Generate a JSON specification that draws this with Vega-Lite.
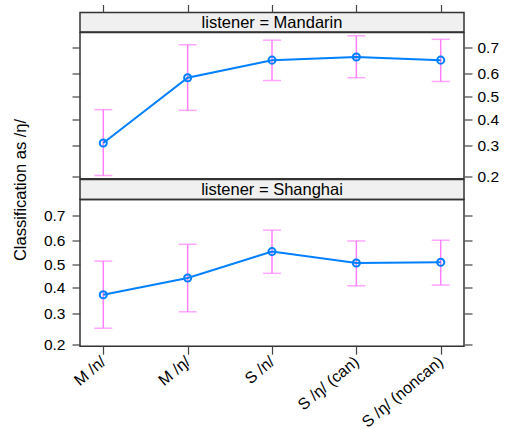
{
  "$schema": "https://vega.github.io/schema/vega-lite/v6.json",
  "padding": {"left": 11, "top": 2.5, "right": 5, "bottom": 5},
  "background": "white",
  "config": {
    "font": "Liberation Sans",
    "view": {"stroke": "#333333", "strokeWidth": 1.5},
    "axis": {"tickColor": "#444444", "tickSize": 8, "tickWidth": 1.2, "labelColor": "black", "labelFont": "Liberation Sans", "labelFontSize": 15.5, "grid": false, "domain": false, "titleFont": "Liberation Sans", "titleFontWeight": "normal", "titleColor": "black"}
  },
  "datasets": {
    "est": [
      {"listener": "Mandarin", "cond": "M /n/", "p": 0.308, "lo": 0.202, "hi": 0.443},
      {"listener": "Mandarin", "cond": "M /ŋ/", "p": 0.581, "lo": 0.440, "hi": 0.711},
      {"listener": "Mandarin", "cond": "S /n/", "p": 0.653, "lo": 0.569, "hi": 0.727},
      {"listener": "Mandarin", "cond": "S /ŋ/ (can)", "p": 0.665, "lo": 0.581, "hi": 0.742},
      {"listener": "Mandarin", "cond": "S /ŋ/ (noncan)", "p": 0.653, "lo": 0.565, "hi": 0.730},
      {"listener": "Shanghai", "cond": "M /n/", "p": 0.371, "lo": 0.248, "hi": 0.514},
      {"listener": "Shanghai", "cond": "M /ŋ/", "p": 0.441, "lo": 0.305, "hi": 0.586},
      {"listener": "Shanghai", "cond": "S /n/", "p": 0.555, "lo": 0.461, "hi": 0.644},
      {"listener": "Shanghai", "cond": "S /ŋ/ (can)", "p": 0.506, "lo": 0.408, "hi": 0.600},
      {"listener": "Shanghai", "cond": "S /ŋ/ (noncan)", "p": 0.509, "lo": 0.411, "hi": 0.603}
    ]
  },
  "spacing": 0,
  "bounds": "flush",
  "vconcat": [
    {
      "width": 384,
      "height": 19.5,
      "view": {"fill": "#f0f0f0", "stroke": "#333333", "strokeWidth": 1.5},
      "layer": [
        {
          "data": {"name": "est"},
          "mark": {"type": "point", "opacity": 0},
          "encoding": {
            "x": {"field": "cond", "type": "ordinal", "sort": ["M /n/", "M /ŋ/", "S /n/", "S /ŋ/ (can)", "S /ŋ/ (noncan)"], "scale": {"type": "point", "padding": 0.276}, "axis": {"orient": "top", "labels": false, "title": null}}
          }
        },
        {
          "data": {"values": [{"s": "listener = Mandarin"}]},
          "mark": {"type": "text", "fontSize": 16.5, "color": "black", "baseline": "middle", "align": "center", "dy": 0.5},
          "encoding": {"text": {"field": "s"}}
        }
      ]
    },
    {
      "width": 384,
      "height": 146.3,
      "data": {"name": "est"},
      "transform": [
        {"filter": "datum.listener == 'Mandarin'"},
        {"calculate": "log(datum.p/(1-datum.p))", "as": "lp"},
        {"calculate": "log(datum.lo/(1-datum.lo))", "as": "llo"},
        {"calculate": "log(datum.hi/(1-datum.hi))", "as": "lhi"}
      ],
      "encoding": {
        "x": {"field": "cond", "type": "ordinal", "sort": ["M /n/", "M /ŋ/", "S /n/", "S /ŋ/ (can)", "S /ŋ/ (noncan)"], "scale": {"type": "point", "padding": 0.276}, "axis": null}
      },
      "resolve": {"axis": {"y": "independent"}},
      "layer": [
        {
          "mark": {"type": "rule", "color": "#ff80ff", "strokeWidth": 1.5},
          "encoding": {
            "y": {"field": "llo", "type": "quantitative", "scale": {"domain": [-1.431, 1.113], "nice": false, "zero": false}, "axis": {"orient": "left", "values": [-1.3863, -0.8473, -0.4055, 0, 0.4055, 0.8473], "labels": false, "title": null}},
            "y2": {"field": "lhi"}
          }
        },
        {
          "mark": {"type": "tick", "color": "#ff80ff", "size": 18, "thickness": 1.5},
          "encoding": {
            "y": {"field": "llo", "type": "quantitative", "scale": {"domain": [-1.431, 1.113], "nice": false, "zero": false}, "axis": {"orient": "right", "values": [-1.3863, -0.8473, -0.4055, 0, 0.4055, 0.8473], "labelExpr": "format(1/(1+exp(-datum.value)), '.1f')", "labelPadding": 5, "title": null}}
          }
        },
        {
          "mark": {"type": "tick", "color": "#ff80ff", "size": 18, "thickness": 1.5},
          "encoding": {"y": {"field": "lhi", "type": "quantitative", "axis": null}}
        },
        {
          "mark": {"type": "line", "color": "#0080ff", "strokeWidth": 2},
          "encoding": {"y": {"field": "lp", "type": "quantitative", "axis": null}}
        },
        {
          "mark": {"type": "point", "filled": false, "color": "#0080ff", "size": 50, "strokeWidth": 2, "opacity": 1},
          "encoding": {"y": {"field": "lp", "type": "quantitative", "axis": null}}
        }
      ]
    },
    {
      "width": 384,
      "height": 20,
      "view": {"fill": "#f0f0f0", "stroke": "#333333", "strokeWidth": 1.5},
      "data": {"values": [{"s": "listener = Shanghai"}]},
      "mark": {"type": "text", "fontSize": 16.5, "color": "black", "baseline": "middle", "align": "center", "dy": 0.5},
      "encoding": {"text": {"field": "s"}}
    },
    {
      "width": 384,
      "height": 146.7,
      "data": {"name": "est"},
      "transform": [
        {"filter": "datum.listener == 'Shanghai'"},
        {"calculate": "log(datum.p/(1-datum.p))", "as": "lp"},
        {"calculate": "log(datum.lo/(1-datum.lo))", "as": "llo"},
        {"calculate": "log(datum.hi/(1-datum.hi))", "as": "lhi"}
      ],
      "encoding": {
        "x": {"field": "cond", "type": "ordinal", "sort": ["M /n/", "M /ŋ/", "S /n/", "S /ŋ/ (can)", "S /ŋ/ (noncan)"], "scale": {"type": "point", "padding": 0.276}, "axis": {"orient": "bottom", "labelAngle": -40, "labelAlign": "right", "labelBaseline": "middle", "labelPadding": 5, "labelFontSize": 16, "title": null}}
      },
      "resolve": {"axis": {"y": "independent"}},
      "layer": [
        {
          "mark": {"type": "rule", "color": "#ff80ff", "strokeWidth": 1.5},
          "encoding": {
            "y": {"field": "llo", "type": "quantitative", "scale": {"domain": [-1.421, 1.125], "nice": false, "zero": false}, "axis": {"orient": "left", "values": [-1.3863, -0.8473, -0.4055, 0, 0.4055, 0.8473], "labelExpr": "format(1/(1+exp(-datum.value)), '.1f')", "labelPadding": 7, "title": "Classification as /ŋ/", "titleFontSize": 16.5, "titleX": -54.3, "titleY": -10, "titleAngle": -90, "titleAlign": "center", "titleBaseline": "alphabetic"}},
            "y2": {"field": "lhi"}
          }
        },
        {
          "mark": {"type": "tick", "color": "#ff80ff", "size": 18, "thickness": 1.5},
          "encoding": {
            "y": {"field": "llo", "type": "quantitative", "scale": {"domain": [-1.421, 1.125], "nice": false, "zero": false}, "axis": {"orient": "right", "values": [-1.3863, -0.8473, -0.4055, 0, 0.4055, 0.8473], "labels": false, "title": null}}
          }
        },
        {
          "mark": {"type": "tick", "color": "#ff80ff", "size": 18, "thickness": 1.5},
          "encoding": {"y": {"field": "lhi", "type": "quantitative", "axis": null}}
        },
        {
          "mark": {"type": "line", "color": "#0080ff", "strokeWidth": 2},
          "encoding": {"y": {"field": "lp", "type": "quantitative", "axis": null}}
        },
        {
          "mark": {"type": "point", "filled": false, "color": "#0080ff", "size": 50, "strokeWidth": 2, "opacity": 1},
          "encoding": {"y": {"field": "lp", "type": "quantitative", "axis": null}}
        }
      ]
    }
  ]
}
